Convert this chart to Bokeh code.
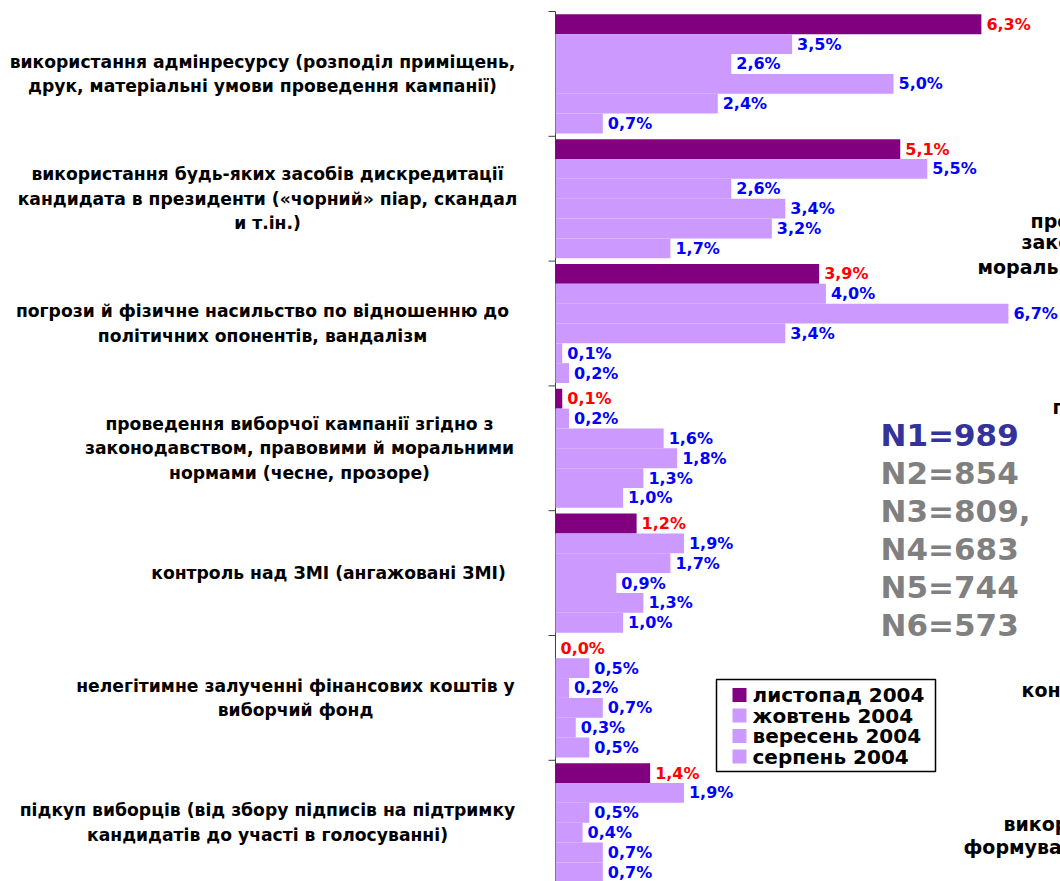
import math
from bokeh.plotting import figure
from bokeh.models import Range1d, ColumnDataSource
from bokeh.embed import file_html
from bokeh.resources import INLINE
from bokeh.core.properties import value

# ---------------- data ----------------
categories = [
    "використання адмінресурсу (розподіл приміщень,\nдрук, матеріальні умови проведення кампанії)",
    "використання будь-яких засобів дискредитації\nкандидата в президенти («чорний» піар, скандал\nи т.ін.)",
    "погрози й фізичне насильство по відношенню до\nполітичних опонентів, вандалізм",
    "проведення виборчої кампанії згідно з\nзаконодавством, правовими й моральними\nнормами (чесне, прозоре)",
    "контроль над ЗМІ (ангажовані ЗМІ)",
    "нелегітимне залученні фінансових коштів у\nвиборчий фонд",
    "підкуп виборців (від збору підписів на підтримку\nкандидатів до участі в голосуванні)",
]
series_names = ["листопад 2004", "жовтень 2004", "вересень 2004", "серпень 2004",
                "липень 2004", "червень 2004"]
nov_2004 = [6.3, 5.1, 3.9, 0.1, 1.2, 0.0, 1.4]
oct_2004 = [3.5, 5.5, 4.0, 0.2, 1.9, 0.5, 1.9]
sep_2004 = [2.6, 2.6, 6.7, 1.6, 1.7, 0.2, 0.5]
aug_2004 = [5.0, 3.4, 3.4, 1.8, 0.9, 0.7, 0.4]
jul_2004 = [2.4, 3.2, 0.1, 1.3, 1.3, 0.3, 0.7]
jun_2004 = [0.7, 1.7, 0.2, 1.0, 1.0, 0.5, 0.7]
sample_sizes = ["N1=989", "N2=854", "N3=809,", "N4=683", "N5=744", "N6=573"]
side_fragments = ["про", "зако", "мораль", "п", "кон", "викор", "формува"]

series_values = [nov_2004, oct_2004, sep_2004, aug_2004, jul_2004, jun_2004]

# ---------------- layout / style ----------------
W, H = 1060, 881
AXIS_X = 555          # pixel position of the value axis
TOP_Y = 11            # pixel position of the first category boundary
PX_PER_PCT = 67.6
PX_PER_CAT = 124.8
BAR_H = 0.159
BAR_PAD = 0.023
FONT = "DejaVu Sans"
series_colors = ["#800080"] + ["#CC99FF"] * 5
label_colors = ["#FF0000"] + ["#0000FF"] * 5
label_cx = [262, 267, 262, 299, 328, 295, 267]
LINE_GAP = 24.5
n_colors = ["#333399"] + ["#808080"] * 5
N_X, N_Y0, N_DY = 880, 434, 38.1
frag_pos = [(1030, 220), (1021, 241), (977, 266), (1052, 406), (1021, 689), (1003, 823), (963, 846)]
LEG_L, LEG_R, LEG_T, LEG_B = 716, 935, 679, 771
LEG_ROW0, LEG_DY = 694.5, 20.5


def fmt(v):
    return ("%.1f%%" % v).replace(".", ",")


p = figure(width=W, height=H, output_backend="svg", toolbar_location=None,
           x_range=Range1d(-AXIS_X / PX_PER_PCT, (W - AXIS_X) / PX_PER_PCT),
           y_range=Range1d((H - TOP_Y) / PX_PER_CAT, -TOP_Y / PX_PER_CAT),
           x_axis_location=None, y_axis_location=None,
           min_border=0, min_border_left=0, min_border_right=0,
           min_border_top=0, min_border_bottom=0)
p.extra_x_ranges = {"px": Range1d(0, W)}
p.extra_y_ranges = {"px": Range1d(H, 0)}
p.outline_line_color = None
p.grid.visible = False
p.background_fill_color = "white"
p.border_fill_color = "white"

ncat = len(categories)
ymax = (H - TOP_Y) / PX_PER_CAT

# value axis: line + outward ticks at category boundaries
p.segment(x0=[0], y0=[0], x1=[0], y1=[ymax], line_color="#404040", line_width=1)
p.ray(x=[0] * (ncat + 1), y=list(range(ncat + 1)), length=7, length_units="screen",
      angle=math.pi, line_color="#404040", line_width=1)

for j, vals in enumerate(series_values):
    yc = [k + BAR_PAD + (j + 0.5) * BAR_H for k in range(ncat)]
    src = ColumnDataSource(dict(y=yc, right=vals, lab=[fmt(v) for v in vals]))
    p.hbar(y="y", left=0, right="right", height=BAR_H, source=src,
           fill_color=series_colors[j], line_color=None)
    p.text(x="right", y="y", text="lab", source=src, x_offset=5,
           text_align="left", text_baseline="middle",
           text_font=value(FONT), text_font_style="bold", text_font_size="16px",
           text_color=label_colors[j])

# category labels (centred lines, block centred on category)
cx, cy, cyo, ct = [], [], [], []
for k, cat in enumerate(categories):
    lines = cat.split("\n")
    n = len(lines)
    for i, line in enumerate(lines):
        cx.append(label_cx[k])
        cy.append(k + 0.5)
        cyo.append((i - (n - 1) / 2) * LINE_GAP)
        ct.append(line)
p.text(x="x", y="y", text="t", y_offset="yo",
       source=ColumnDataSource(dict(x=cx, y=cy, yo=cyo, t=ct)),
       x_range_name="px", text_align="center", text_baseline="middle",
       text_font=value(FONT), text_font_style="bold", text_font_size="17.2px",
       text_color="black")

# sample sizes
p.text(x=[N_X] * len(sample_sizes), y=[N_Y0 + N_DY * i for i in range(len(sample_sizes))],
       text=sample_sizes, x_range_name="px", y_range_name="px",
       text_align="left", text_baseline="middle",
       text_font=value(FONT), text_font_style="bold", text_font_size="31px",
       text_color=n_colors)

# fragments of neighbouring labels cut by the right edge
p.text(x=[f[0] for f in frag_pos], y=[f[1] for f in frag_pos], text=side_fragments,
       x_range_name="px", y_range_name="px", text_align="left", text_baseline="middle",
       text_font=value(FONT), text_font_style="bold", text_font_size="19px",
       text_color="black")

# legend (box clipped during the fifth row, as in the original)
p.quad(left=[LEG_L], right=[LEG_R], top=[LEG_T], bottom=[LEG_B],
       x_range_name="px", y_range_name="px", fill_color="white", line_color=None)
nsw = 4
rows = [LEG_ROW0 + LEG_DY * i for i in range(5)]
rows[-1] += 3
p.quad(left=[LEG_L + 16] * nsw, right=[LEG_L + 30] * nsw,
       top=[r - 7 for r in rows[:nsw]], bottom=[r + 7 for r in rows[:nsw]],
       x_range_name="px", y_range_name="px",
       fill_color=series_colors[:nsw], line_color=None)
p.text(x=[LEG_L + 36] * 5, y=rows, text=series_names[:5],
       x_range_name="px", y_range_name="px", text_align="left", text_baseline="middle",
       text_font=value(FONT), text_font_style="bold", text_font_size="20px",
       text_color="black")
p.quad(left=[LEG_L + 30], right=[LEG_R + 1], top=[LEG_B + 0.8], bottom=[LEG_B + 22],
       x_range_name="px", y_range_name="px", fill_color="white", line_color=None)
p.quad(left=[LEG_L], right=[LEG_R], top=[LEG_T], bottom=[LEG_B],
       x_range_name="px", y_range_name="px", fill_color=None,
       line_color="black", line_width=1.5)

open("out.html", "w").write(file_html(p, INLINE))
